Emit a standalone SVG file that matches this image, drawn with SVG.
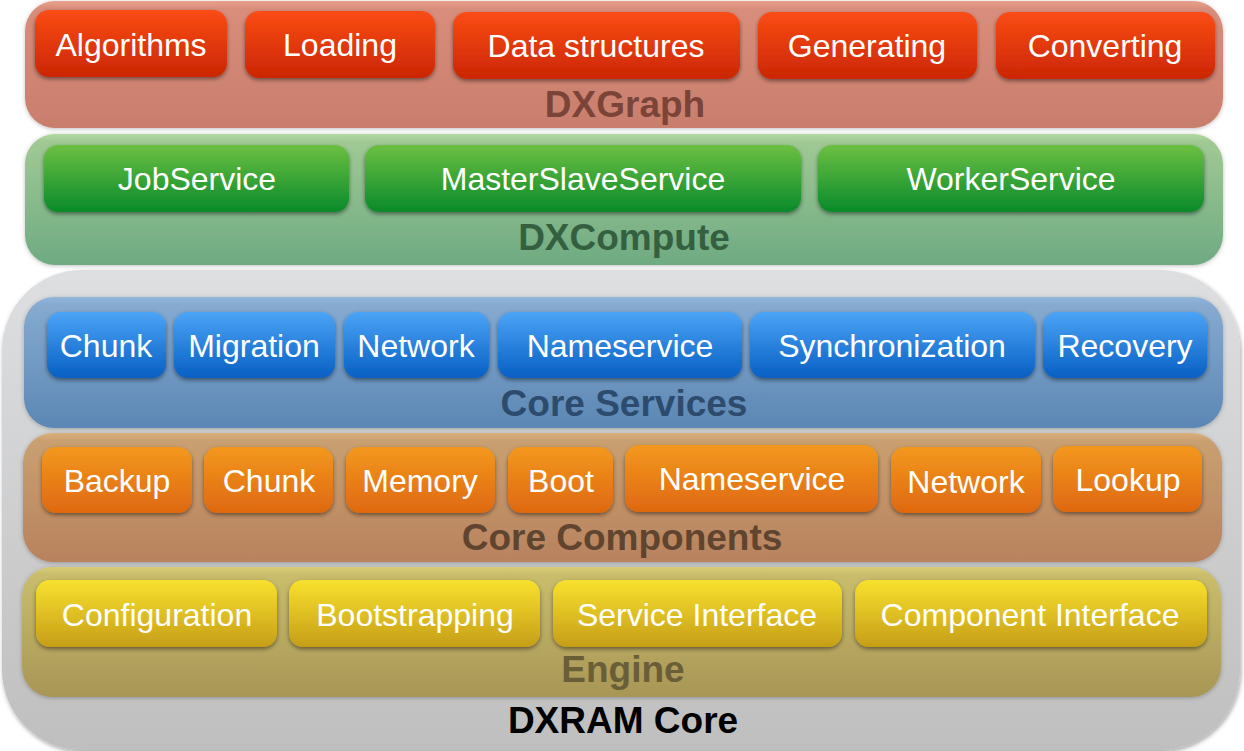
<svg xmlns="http://www.w3.org/2000/svg" width="1244" height="751" viewBox="0 0 1244 751">
<defs>
<linearGradient id="gOuter" x1="0" y1="0" x2="0" y2="1"><stop offset="0" stop-color="#dedfe1"/><stop offset="1" stop-color="#bfbfbf"/></linearGradient>
<linearGradient id="gRedC" x1="0" y1="0" x2="0" y2="1"><stop offset="0" stop-color="#e8a08c"/><stop offset="0.06" stop-color="#d98e7c"/><stop offset="1" stop-color="#c97e6d"/></linearGradient>
<linearGradient id="gGreenC" x1="0" y1="0" x2="0" y2="1"><stop offset="0" stop-color="#b2d9a2"/><stop offset="0.06" stop-color="#a0c994"/><stop offset="1" stop-color="#6eaa82"/></linearGradient>
<linearGradient id="gBlueC" x1="0" y1="0" x2="0" y2="1"><stop offset="0" stop-color="#92b6da"/><stop offset="0.06" stop-color="#86aad0"/><stop offset="1" stop-color="#5b87b4"/></linearGradient>
<linearGradient id="gOrangeC" x1="0" y1="0" x2="0" y2="1"><stop offset="0" stop-color="#dcb07c"/><stop offset="0.06" stop-color="#c9a070"/><stop offset="1" stop-color="#b8825e"/></linearGradient>
<linearGradient id="gYellowC" x1="0" y1="0" x2="0" y2="1"><stop offset="0" stop-color="#d8cc74"/><stop offset="0.06" stop-color="#c9bd6c"/><stop offset="1" stop-color="#a89656"/></linearGradient>
<linearGradient id="gRed" x1="0" y1="0" x2="0" y2="1"><stop offset="0" stop-color="#fa4c14"/><stop offset="1" stop-color="#cb2604"/></linearGradient>
<linearGradient id="gGreen" x1="0" y1="0" x2="0" y2="1"><stop offset="0" stop-color="#6cc042"/><stop offset="1" stop-color="#088a2a"/></linearGradient>
<linearGradient id="gBlue" x1="0" y1="0" x2="0" y2="1"><stop offset="0" stop-color="#4ca4f6"/><stop offset="1" stop-color="#075fc3"/></linearGradient>
<linearGradient id="gOrange" x1="0" y1="0" x2="0" y2="1"><stop offset="0" stop-color="#f3981e"/><stop offset="1" stop-color="#df6810"/></linearGradient>
<linearGradient id="gYellow" x1="0" y1="0" x2="0" y2="1"><stop offset="0" stop-color="#f8e12e"/><stop offset="1" stop-color="#c69e18"/></linearGradient>
<filter id="shBtn" x="-10%" y="-20%" width="120%" height="150%"><feDropShadow dx="0" dy="2" stdDeviation="2" flood-color="#000" flood-opacity="0.45"/></filter>
<filter id="shCont" x="-5%" y="-10%" width="110%" height="125%"><feDropShadow dx="0" dy="1" stdDeviation="2" flood-color="#000" flood-opacity="0.25"/></filter>
<filter id="shOuter" x="-5%" y="-5%" width="110%" height="115%"><feDropShadow dx="1" dy="2" stdDeviation="2" flood-color="#000" flood-opacity="0.35"/></filter>
</defs>
<style>
.btn text, text.bt { font-family: "Liberation Sans", Arial, sans-serif; font-size: 32px; fill: #ffffff; text-anchor: middle; }
.ttl { font-family: "Liberation Sans", Arial, sans-serif; font-size: 37px; font-weight: bold; text-anchor: middle; }
.btn rect { filter: url(#shBtn); }
.cont { filter: url(#shCont); }
</style>

<g id="dxram-core">
<rect x="2" y="270" width="1238" height="480" rx="80" ry="80" fill="url(#gOuter)" filter="url(#shOuter)"/>
<text class="ttl" x="623" y="733" fill="#000000">DXRAM Core</text>
</g>

<g id="dxgraph">
<rect class="cont" x="25" y="1" width="1198" height="127" rx="30" fill="url(#gRedC)"/>
<text class="ttl" x="625" y="117" fill="#7b4438">DXGraph</text>
<g id="algorithms" class="btn"><rect x="35" y="10" width="192" height="67" rx="14" fill="url(#gRed)"/><text x="131" y="56">Algorithms</text></g>
<g id="loading" class="btn"><rect x="245" y="11" width="190" height="67" rx="14" fill="url(#gRed)"/><text x="340" y="56">Loading</text></g>
<g id="data-structures" class="btn"><rect x="453" y="12" width="287" height="67" rx="14" fill="url(#gRed)"/><text x="596" y="57">Data structures</text></g>
<g id="generating" class="btn"><rect x="758" y="12" width="219" height="67" rx="14" fill="url(#gRed)"/><text x="867" y="57">Generating</text></g>
<g id="converting" class="btn"><rect x="996" y="12" width="219" height="67" rx="14" fill="url(#gRed)"/><text x="1105" y="57">Converting</text></g>
</g>

<g id="dxcompute">
<rect class="cont" x="25" y="134" width="1198" height="131" rx="30" fill="url(#gGreenC)"/>
<text class="ttl" x="624" y="250" fill="#35603f">DXCompute</text>
<g id="jobservice" class="btn"><rect x="44" y="145" width="305" height="67" rx="14" fill="url(#gGreen)"/><text x="197" y="190">JobService</text></g>
<g id="masterslaveservice" class="btn"><rect x="365" y="145" width="436" height="67" rx="14" fill="url(#gGreen)"/><text x="583" y="190">MasterSlaveService</text></g>
<g id="workerservice" class="btn"><rect x="818" y="145" width="386" height="67" rx="14" fill="url(#gGreen)"/><text x="1011" y="190">WorkerService</text></g>
</g>

<g id="core-services">
<rect class="cont" x="24" y="297" width="1199" height="131" rx="30" fill="url(#gBlueC)"/>
<text class="ttl" x="624" y="416" fill="#2d4b6c">Core Services</text>
<g id="cs-chunk" class="btn"><rect x="47" y="312" width="119" height="66" rx="14" fill="url(#gBlue)"/><text x="106" y="357">Chunk</text></g>
<g id="cs-migration" class="btn"><rect x="174" y="312" width="161" height="66" rx="14" fill="url(#gBlue)"/><text x="254" y="357">Migration</text></g>
<g id="cs-network" class="btn"><rect x="344" y="312" width="145" height="66" rx="14" fill="url(#gBlue)"/><text x="416" y="357">Network</text></g>
<g id="cs-nameservice" class="btn"><rect x="498" y="312" width="244" height="66" rx="14" fill="url(#gBlue)"/><text x="620" y="357">Nameservice</text></g>
<g id="cs-synchronization" class="btn"><rect x="750" y="312" width="285" height="66" rx="14" fill="url(#gBlue)"/><text x="892" y="357">Synchronization</text></g>
<g id="cs-recovery" class="btn"><rect x="1043" y="312" width="164" height="66" rx="14" fill="url(#gBlue)"/><text x="1125" y="357">Recovery</text></g>
</g>

<g id="core-components">
<rect class="cont" x="23" y="433" width="1199" height="129" rx="30" fill="url(#gOrangeC)"/>
<text class="ttl" x="622" y="550" fill="#5f4530">Core Components</text>
<g id="cc-backup" class="btn"><rect x="42" y="447" width="150" height="66" rx="14" fill="url(#gOrange)"/><text x="117" y="492">Backup</text></g>
<g id="cc-chunk" class="btn"><rect x="204" y="447" width="129" height="66" rx="14" fill="url(#gOrange)"/><text x="269" y="492">Chunk</text></g>
<g id="cc-memory" class="btn"><rect x="346" y="447" width="149" height="66" rx="14" fill="url(#gOrange)"/><text x="420" y="492">Memory</text></g>
<g id="cc-boot" class="btn"><rect x="508" y="447" width="105" height="66" rx="14" fill="url(#gOrange)"/><text x="561" y="492">Boot</text></g>
<g id="cc-nameservice" class="btn"><rect x="625" y="445" width="253" height="67" rx="14" fill="url(#gOrange)"/><text x="752" y="490">Nameservice</text></g>
<g id="cc-network" class="btn"><rect x="891" y="447" width="150" height="66" rx="14" fill="url(#gOrange)"/><text x="966" y="493">Network</text></g>
<g id="cc-lookup" class="btn"><rect x="1053" y="446" width="149" height="66" rx="14" fill="url(#gOrange)"/><text x="1128" y="491">Lookup</text></g>
</g>

<g id="engine">
<rect class="cont" x="22" y="567" width="1199" height="130" rx="30" fill="url(#gYellowC)"/>
<text class="ttl" x="623" y="682" fill="#6a5e38">Engine</text>
<g id="configuration" class="btn"><rect x="36" y="580" width="241" height="67" rx="14" fill="url(#gYellow)"/><text x="157" y="626">Configuration</text></g>
<g id="bootstrapping" class="btn"><rect x="289" y="580" width="251" height="67" rx="14" fill="url(#gYellow)"/><text x="415" y="626">Bootstrapping</text></g>
<g id="service-interface" class="btn"><rect x="553" y="580" width="289" height="67" rx="14" fill="url(#gYellow)"/><text x="697" y="626">Service Interface</text></g>
<g id="component-interface" class="btn"><rect x="855" y="580" width="352" height="67" rx="14" fill="url(#gYellow)"/><text x="1030" y="626">Component Interface</text></g>
</g>

<g id="connectors"></g>
</svg>
